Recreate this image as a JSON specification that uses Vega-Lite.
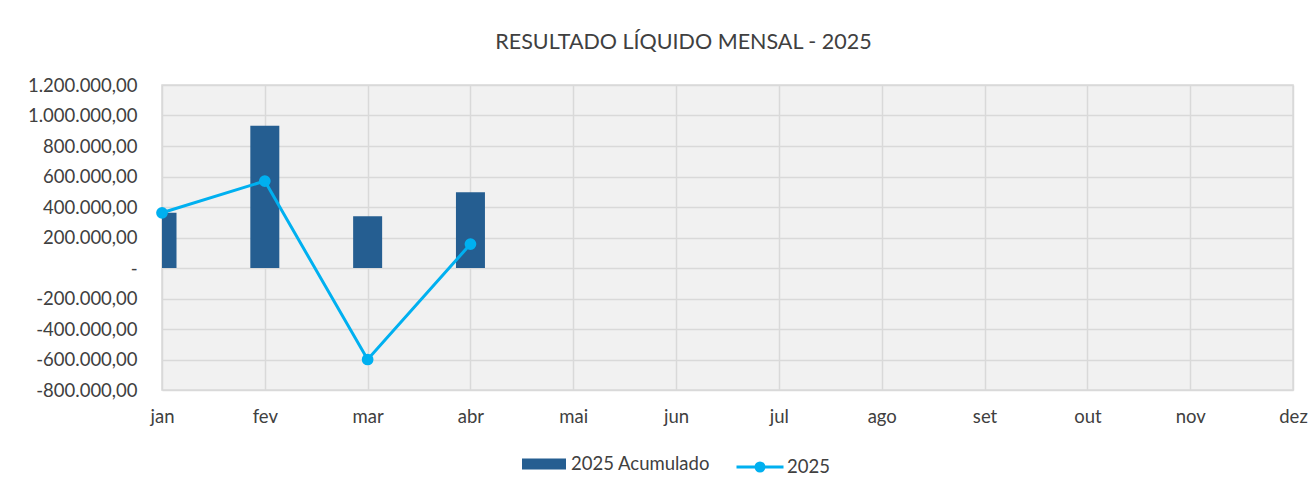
{
  "$schema": "https://vega.github.io/schema/vega-lite/v6.json",
  "autosize": "none",
  "width": 1131,
  "height": 305,
  "padding": {"left": 162, "top": 85, "right": 22, "bottom": 99},
  "background": "#ffffff",
  "config": {
    "locale": {"number": {"decimal": ",", "thousands": ".", "grouping": [3], "currency": ["R$", ""], "minus": "-"}},
    "font": "Lato",
    "view": {"fill": "#f1f1f1", "stroke": "#d9d9d9", "strokeWidth": 1.5},
    "axis": {"labelFont": "Lato", "labelFontSize": 18.5, "labelColor": "#404040", "gridColor": "#d9d9d9", "gridWidth": 1.5, "domain": false, "ticks": false, "title": null, "labelOverlap": false}
  },
  "title": {"text": "RESULTADO LÍQUIDO MENSAL - 2025", "font": "Lato", "fontSize": 21.5, "fontWeight": "normal", "color": "#404040", "anchor": "middle", "frame": "group", "dx": -44, "offset": 23},
  "data": {"values": [
    {"mes": "jan", "acumulado": 362000, "mensal": 362000},
    {"mes": "fev", "acumulado": 932000, "mensal": 570000},
    {"mes": "mar", "acumulado": 339000, "mensal": -600000},
    {"mes": "abr", "acumulado": 496000, "mensal": 157000}
  ]},
  "encoding": {
    "x": {"field": "mes", "type": "ordinal", "sort": null, "scale": {"type": "point", "padding": 0, "domain": ["jan","fev","mar","abr","mai","jun","jul","ago","set","out","nov","dez"]}, "axis": {"labelAngle": 0, "labelPadding": 17, "grid": true, "labelOverlap": false}}
  },
  "layer": [
    {
      "mark": {"type": "bar", "width": 29, "clip": true},
      "encoding": {
        "y": {"field": "acumulado", "type": "quantitative", "scale": {"domain": [-800000, 1200000], "nice": false}, "axis": {"values": [-800000,-600000,-400000,-200000,0,200000,400000,600000,800000,1000000,1200000], "tickCount": 20, "format": ",.2f", "labelExpr": "datum.value == 0 ? '-\u00a0\u00a0\u00a0' : datum.label", "labelPadding": 25, "grid": true, "labelOverlap": false, "labelBound": false, "labelFlush": false}},
        "color": {"datum": "2025 Acumulado", "scale": {"range": ["#255e91"]}, "legend": {"orient": "none", "legendX": 360, "legendY": 357, "title": null, "symbolType": "M-1,-0.25L1,-0.25L1,0.25L-1,0.25Z", "symbolSize": 1936, "symbolStrokeWidth": 0, "labelFont": "Lato", "labelFontSize": 18.5, "labelColor": "#404040", "padding": 0, "labelOffset": 5}}
      }
    },
    {
      "mark": {"type": "line", "strokeWidth": 3, "point": {"filled": true, "fill": "#00b0f0", "size": 95, "opacity": 1}},
      "encoding": {
        "y": {"field": "mensal", "type": "quantitative", "scale": {"domain": [-800000, 1200000], "nice": false}, "axis": {"values": [-800000,-600000,-400000,-200000,0,200000,400000,600000,800000,1000000,1200000], "tickCount": 20, "format": ",.2f", "labelExpr": "datum.value == 0 ? '-\u00a0\u00a0\u00a0' : datum.label", "labelPadding": 25, "grid": true, "labelOverlap": false, "labelBound": false, "labelFlush": false}},
        "stroke": {"datum": "2025", "scale": {"range": ["#00b0f0"]}, "legend": {"orient": "none", "legendX": 573, "legendY": 357, "title": null, "symbolType": "M-1,0L1,0M-0.17,0A0.17,0.17,0,1,1,0.17,0A0.17,0.17,0,1,1,-0.17,0Z", "symbolSize": 2209, "symbolStrokeWidth": 3, "symbolFillColor": "#00b0f0", "labelFont": "Lato", "labelFontSize": 18.5, "labelColor": "#404040", "padding": 0, "labelOffset": 2}}
      }
    }
  ]
}
